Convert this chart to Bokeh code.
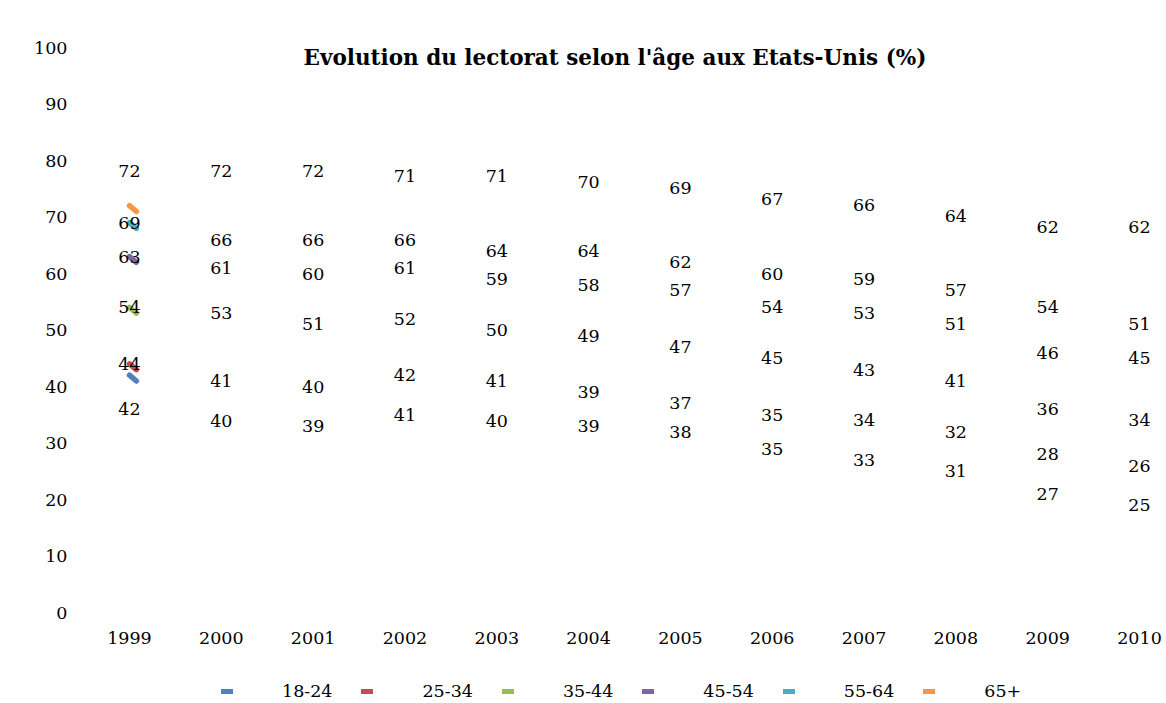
from bokeh.plotting import figure
from bokeh.models import Range1d, Label, Legend, LegendItem, ColumnDataSource, FixedTicker
from bokeh.layouts import column
from bokeh.core.properties import value
from bokeh.embed import file_html
from bokeh.resources import INLINE

years = [1999, 2000, 2001, 2002, 2003, 2004, 2005, 2006, 2007, 2008, 2009, 2010]
series_names = ["18-24", "25-34", "35-44", "45-54", "55-64", "65+"]
s18_24 = [42, 40, 39, 41, 40, 39, 38, 35, 33, 31, 27, 25]
s25_34 = [44, 41, 40, 42, 41, 39, 37, 35, 34, 32, 28, 26]
s35_44 = [54, 53, 51, 52, 50, 49, 47, 45, 43, 41, 36, 34]
s45_54 = [63, 61, 60, 61, 59, 58, 57, 54, 53, 51, 46, 45]
s55_64 = [69, 66, 66, 66, 64, 64, 62, 60, 59, 57, 54, 51]
s65p = [72, 72, 72, 71, 71, 70, 69, 67, 66, 64, 62, 62]
series_values = [s18_24, s25_34, s35_44, s45_54, s55_64, s65p]
colors = ["#4F81BD", "#C0504D", "#9BBB59", "#8064A2", "#4BACC6", "#F79646"]
label_offsets = {"18-24": 34, "65+": -35}
y_ticks = list(range(0, 101, 10))
title_text = "Evolution du lectorat selon l'âge aux Etats-Unis (%)"

FONT = "DejaVu Serif"
FS = "17.5px"

W = 1166
H_MAIN, H_LEG = 665, 38

p = figure(width=W, height=H_MAIN, output_backend="svg", toolbar_location=None,
           x_range=Range1d(1998.499, 2010.294), y_range=Range1d(0, 100),
           min_border_left=83, min_border_right=0, min_border_top=47, min_border_bottom=53)
p.outline_line_color = None
p.background_fill_color = "white"
p.border_fill_color = "white"
p.xgrid.visible = False
p.ygrid.visible = False

for ax in (p.xaxis[0], p.yaxis[0]):
    ax.axis_line_color = None
    ax.major_tick_line_color = None
    ax.minor_tick_line_color = None
    ax.major_tick_out = 0
    ax.major_tick_in = 0
    ax.minor_tick_out = 0
    ax.major_label_text_font = FONT
    ax.major_label_text_font_size = FS
    ax.major_label_text_color = "black"
p.xaxis[0].ticker = FixedTicker(ticks=years)
p.xaxis[0].major_label_standoff = 19
p.yaxis[0].ticker = FixedTicker(ticks=y_ticks)
p.yaxis[0].major_label_standoff = 16

# legend strip (separate figure so that the legend is not clipped)
p2 = figure(width=W, height=H_LEG, output_backend="svg", toolbar_location=None,
            x_range=Range1d(0, 1), y_range=Range1d(0, 1),
            min_border_left=0, min_border_right=0, min_border_top=0, min_border_bottom=0)
p2.axis.visible = False
p2.grid.visible = False
p2.outline_line_color = None

legend_items = []
for name, vals, col in zip(series_names, series_values, colors):
    # short stroke at first point (as in the reference)
    p.ray(x=[years[0]], y=[vals[0]], length=9, length_units="screen", angle=-0.7,
          line_color=col, line_width=5.5, line_cap="round")
    src = ColumnDataSource(dict(x=years, y=vals, t=[str(v) for v in vals],
                                off=[label_offsets.get(name, 0)] * len(vals)))
    p.text(x="x", y="y", text="t", y_offset="off", source=src,
           text_font=value(FONT), text_font_size=FS, text_color="black",
           text_align="center", text_baseline="middle")
    lr = p2.line(x=years, y=vals, line_color=col, line_width=5, line_cap="round")
    legend_items.append(LegendItem(label=name, renderers=[lr]))

legend = Legend(items=legend_items, orientation="horizontal", location=(138, 2),
                glyph_width=12, glyph_height=20, label_height=20, label_standoff=49, spacing=29,
                padding=0, margin=0, border_line_color=None, background_fill_alpha=0,
                label_text_font=FONT, label_text_font_size=FS, label_text_color="black")
p2.add_layout(legend, "center")

title = Label(x=531.5, y=555, x_units="screen", y_units="screen", text=title_text,
              text_font=FONT, text_font_style="bold", text_font_size="21.5px",
              text_align="center", text_baseline="middle", text_color="black")
p.add_layout(title)

layout = column(p, p2, spacing=0)
open("out.html", "w").write(file_html(layout, INLINE))
